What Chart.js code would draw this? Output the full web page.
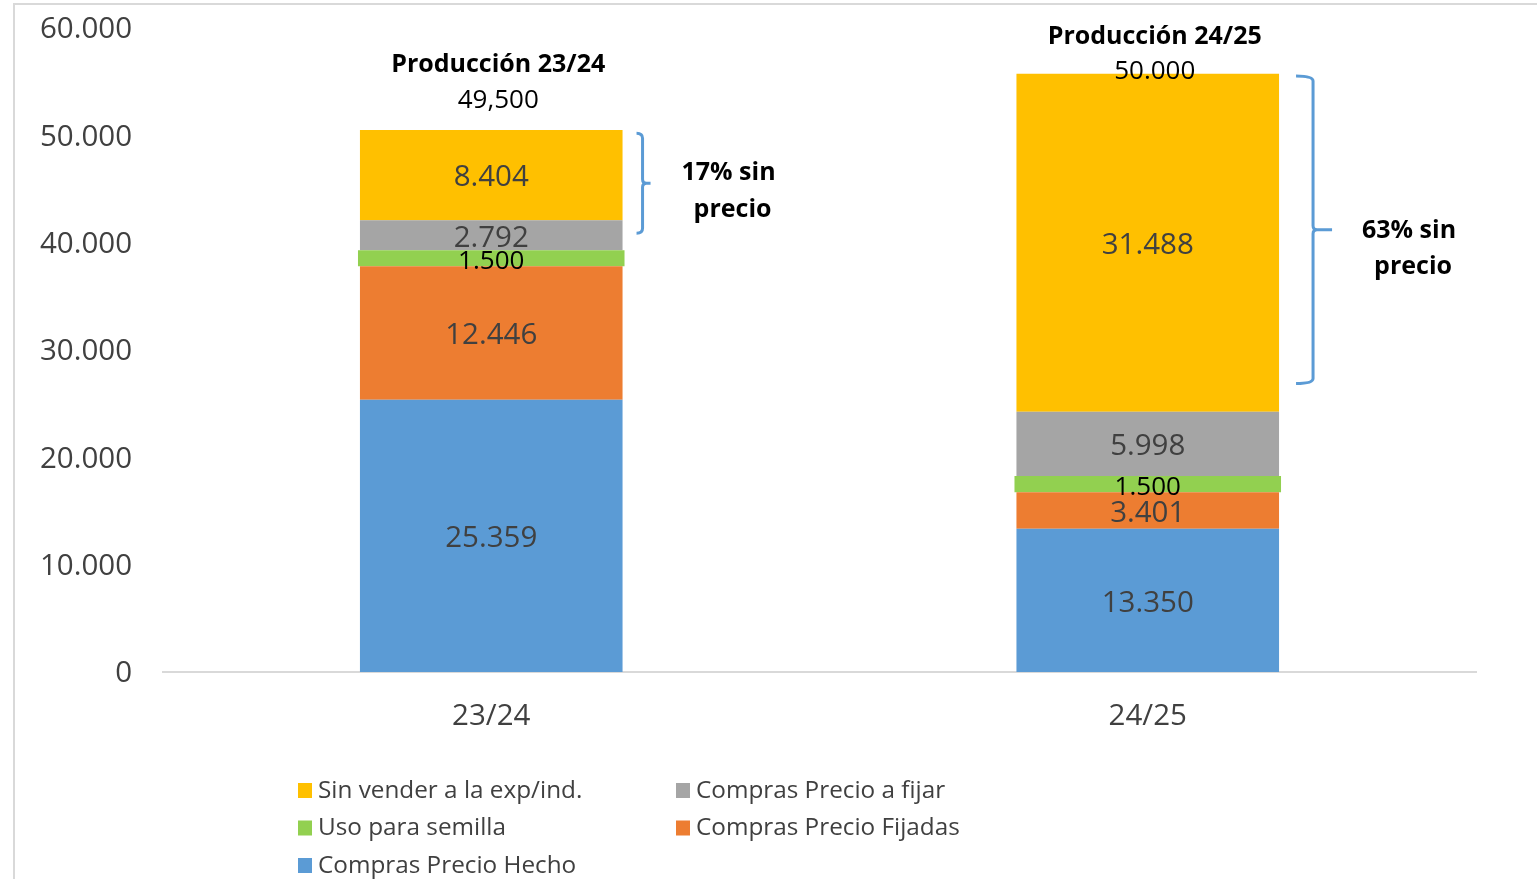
<!DOCTYPE html>
<html>
<head>
<meta charset="utf-8">
<script src="https://cdn.jsdelivr.net/npm/chart.js@4/dist/chart.umd.min.js"></script>
<style>
  html, body { margin: 0; padding: 0; background: #fff; overflow: hidden; }
  #wrap { position: relative; width: 1537px; height: 879px; }
</style>
</head>
<body>
<div id="wrap"><canvas id="chart"></canvas></div>
<script>
// datos
const campanas = ['23/24', '24/25'];
const precioHecho = [25359, 13350];
const precioFijadas = [12446, 3401];
const usoSemilla = [1500, 1500];
const precioAFijar = [2792, 5998];
const sinVender = [8404, 31488];
const produccionTitulos = ['Producción 23/24', 'Producción 24/25'];
const produccionValores = ['49,500', '50.000'];
const sinPrecioTextos = ['17% sin', '63% sin'];
// rango de la llave (valores del eje y)
const llaveDesde = [50200, 55520];
const llaveHasta = [40870, 26870];
const yMax = 60000;
const yPaso = 10000;

const FONT = "'Open Sans', 'Noto Sans', sans-serif";
const GRIS_TXT = '#404040';

const fmt = (v) => String(v).replace(/\B(?=(\d{3})+(?!\d))/g, '.');

// etiquetas centradas en cada segmento
const segmentLabels = {
    id: 'segmentLabels',
    afterDatasetsDraw: (chart) => {
        const ctx = chart.ctx;
        ctx.save();
        ctx.textAlign = 'center';
        ctx.textBaseline = 'middle';
        chart.data.datasets.forEach((ds, i) => {
            const meta = chart.getDatasetMeta(i);
            meta.data.forEach((bar, j) => {
                const y = (bar.y + bar.base) / 2;
                ctx.fillStyle = ds.labelColor || GRIS_TXT;
                ctx.font = (ds.labelSize || 29.5) + 'px ' + FONT;
                ctx.fillText(fmt(ds.data[j]), bar.x, y + 3);
            });
        });
        ctx.restore();
    }
};

// titulos de produccion, llaves y textos "sin precio"
const notas = {
    id: 'notas',
    afterDraw: (chart, args, opts) => {
        const ctx = chart.ctx;
        const x = chart.scales.x, y = chart.scales.y;
        const last = chart.getDatasetMeta(chart.data.datasets.length - 1);
        ctx.save();
        ctx.textAlign = 'center';
        ctx.textBaseline = 'middle';
        campanas.forEach((c, i) => {
            const bar = last.data[i];
            const cx = x.getPixelForValue(i) + opts.dx;
            const top = bar.y;
            ctx.fillStyle = '#000';
            ctx.font = 'bold 25px ' + FONT;
            ctx.fillText(produccionTitulos[i], cx, top + opts.tituloDy[i]);
            ctx.font = '26px ' + FONT;
            ctx.fillText(produccionValores[i], cx, top + opts.valorDy[i]);

            // llave
            const right = bar.x + bar.width / 2;
            const b = opts.llaves[i];
            const y1 = y.getPixelForValue(llaveDesde[i]);
            const y2 = y.getPixelForValue(llaveHasta[i]);
            const ym = (y1 + y2) / 2;
            const xs = right + b.serif, xv = right + b.vert, xt = right + b.tip;
            ctx.strokeStyle = '#5B9BD5';
            ctx.lineWidth = 3;
            ctx.lineCap = 'butt';
            ctx.beginPath();
            ctx.moveTo(xs, y1);
            ctx.quadraticCurveTo(xv, y1, xv, y1 + 5);
            ctx.lineTo(xv, ym - 4);
            ctx.quadraticCurveTo(xv, ym, xv + 4, ym);
            ctx.lineTo(xt, ym);
            ctx.moveTo(xv + 4, ym);
            ctx.quadraticCurveTo(xv, ym, xv, ym + 4);
            ctx.lineTo(xv, y2 - 5);
            ctx.quadraticCurveTo(xv, y2, xs, y2);
            ctx.stroke();

            ctx.fillStyle = '#000';
            ctx.font = 'bold 25px ' + FONT;
            ctx.fillText(sinPrecioTextos[i], xt + b.tx, ym + b.ty1);
            ctx.fillText('precio', xt + b.tx + 4, ym + b.ty2);
        });
        ctx.restore();
    }
};

// leyenda en dos columnas y marco exterior
const leyenda = {
    id: 'leyenda',
    beforeDraw: (chart) => {
        const ctx = chart.ctx;
        ctx.save();
        ctx.strokeStyle = '#d9d9d9';
        ctx.lineWidth = 2;
        ctx.strokeRect(14, 4, 1600, 1000);
        ctx.restore();
    },
    afterDraw: (chart) => {
        const ctx = chart.ctx;
        const items = chart.data.datasets.slice().reverse();
        ctx.save();
        ctx.textBaseline = 'middle';
        ctx.textAlign = 'left';
        ctx.font = '24.3px ' + FONT;
        items.forEach((ds, k) => {
            const col = k % 2, row = Math.floor(k / 2);
            const bx = 298 + col * 378;
            const by = 790 + row * 37.5;
            ctx.fillStyle = ds.backgroundColor;
            ctx.fillRect(bx, by - 7, 14, 15);
            ctx.fillStyle = GRIS_TXT;
            ctx.fillText(ds.label, bx + 20, by + 1);
        });
        ctx.restore();
    }
};

const config = {
    type: 'bar',
    data: {
        labels: campanas,
        datasets: [
            { label: 'Compras Precio Hecho', data: precioHecho, backgroundColor: '#5B9BD5' },
            { label: 'Compras Precio Fijadas', data: precioFijadas, backgroundColor: '#ED7D31' },
            { label: 'Uso para semilla', data: usoSemilla, backgroundColor: '#92D050',
              barPercentage: 0.406, labelColor: '#000', labelSize: 26 },
            { label: 'Compras Precio a fijar', data: precioAFijar, backgroundColor: '#A5A5A5' },
            { label: 'Sin vender a la exp/ind.', data: sinVender, backgroundColor: '#FFC000' }
        ]
    },
    options: {
        responsive: false,
        animation: false,
        events: [],
        barPercentage: 0.4,
        categoryPercentage: 1,
        layout: { padding: { top: 28, right: 61, bottom: 127, left: 0 } },
        plugins: {
            legend: { display: false },
            tooltip: { enabled: false },
            notas: {
                dx: 7,
                tituloDy: [-65, -37],
                valorDy: [-29, -2],
                llaves: [
                    { serif: 14, vert: 20, tip: 28, tx: 78, ty1: -10, ty2: 27 },
                    { serif: 17, vert: 34, tip: 53, tx: 77, ty1: 1, ty2: 37 }
                ]
            }
        },
        scales: {
            x: {
                stacked: true,
                grid: { display: false, drawTicks: false },
                border: { display: true, color: '#d9d9d9', width: 2 },
                ticks: { padding: 27, color: GRIS_TXT, font: { family: FONT, size: 29.5 } },
                afterFit: (s) => { s.height = 80; }
            },
            y: {
                stacked: true,
                min: 0,
                max: yMax,
                grid: { display: false, drawTicks: false },
                border: { display: false },
                ticks: {
                    stepSize: yPaso,
                    padding: 31,
                    labelOffset: 2,
                    color: GRIS_TXT,
                    font: { family: FONT, size: 29.5 },
                    callback: (v) => fmt(v)
                },
                afterFit: (s) => {
                    s.width = 163;
                    s.paddingTop = 10;
                    s.paddingBottom = 10;
                }
            }
        }
    },
    plugins: [segmentLabels, notas, leyenda]
};

const canvas = document.getElementById('chart');
canvas.width = 1537;
canvas.height = 879;
new Chart(canvas.getContext('2d'), config);
</script>
</body>
</html>
